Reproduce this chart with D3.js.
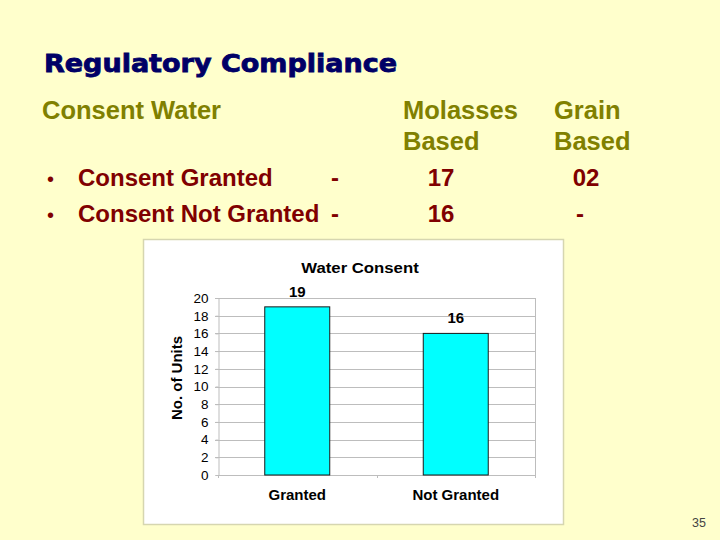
<!DOCTYPE html>
<html><head><meta charset="utf-8">
<script src="https://cdn.jsdelivr.net/npm/d3@7"></script>
<style>html,body{margin:0;padding:0;background:#FFFFCC;}svg{display:block;}</style>
</head><body>
<svg id="c" width="720" height="540"></svg>
<script>
const pageTitle = "Regulatory Compliance";
const sectionLabel = "Consent Water";
const colHeaders = [["Molasses","Based"],["Grain","Based"]];
const rowLabels = ["Consent Granted","Consent Not Granted"];
const molassesVals = ["17","16"];
const grainVals = ["02","-"];
const chartTitle = "Water Consent";
const categories = ["Granted","Not Granted"];
const values = [19,16];
const yTicks = [0,2,4,6,8,10,12,14,16,18,20];
const yTitle = "No. of Units";
const pageNum = "35";

const svg = d3.select("#c");
const F = "Liberation Sans, Arial, sans-serif";
svg.append("rect").attr("width",720).attr("height",540).attr("fill","#FFFFCC");

svg.append("text").attr("x",44).attr("y",72).text(pageTitle)
  .attr("font-family","DejaVu Sans, sans-serif").attr("font-weight","bold").attr("font-size",24)
  .attr("textLength",353).attr("lengthAdjust","spacingAndGlyphs")
  .attr("fill","#000066").attr("stroke","#000066").attr("stroke-width",0.8);

svg.append("text").attr("x",42).attr("y",119).text(sectionLabel)
  .attr("font-family",F).attr("font-weight","bold").attr("font-size",25.5).attr("fill","#808000");

const colX = [403,554];
colHeaders.forEach((h,i)=>{
  h.forEach((t,j)=>{
    svg.append("text").attr("x",colX[i]).attr("y",119+j*31).text(t)
      .attr("font-family",F).attr("font-weight","bold").attr("font-size",25.5).attr("fill","#808000");
  });
});

const rowY = [186,222];
const grainX = [586,580];
rowLabels.forEach((t,i)=>{
  const g = svg.append("g").attr("font-family",F).attr("font-weight","bold").attr("font-size",24).attr("fill","#800000");
  g.append("text").attr("x",47).attr("y",rowY[i]).text("•").attr("font-weight","normal").attr("font-size",20);
  g.append("text").attr("x",78).attr("y",rowY[i]).text(t);
  g.append("text").attr("x",331).attr("y",rowY[i]).text("-");
  g.append("text").attr("x",441).attr("y",rowY[i]).attr("text-anchor","middle").text(molassesVals[i]);
  g.append("text").attr("x",grainX[i]).attr("y",rowY[i]).attr("text-anchor","middle").text(grainVals[i]);
});

// chart box
svg.append("rect").attr("x",143.5).attr("y",239.5).attr("width",420).attr("height",285)
  .attr("fill","#FFFFFF").attr("stroke","#D6D6B0").attr("stroke-width",1.5);

const pL=218, pR=535, pT=298, pB=475;
const x = d3.scaleBand().domain(categories).range([pL,pR]).paddingInner(0.59).paddingOuter(0.295);
const y = d3.scaleLinear().domain([0,20]).range([pB,pT]);

svg.append("text").attr("transform","translate(360,273) scale(1.08,1)").attr("text-anchor","middle").text(chartTitle)
  .attr("font-family",F).attr("font-weight","bold").attr("font-size",15.5).attr("fill","#000");

// gridlines
svg.append("g").selectAll("line").data(yTicks.filter(d=>d>0)).join("line")
  .attr("x1",pL-3).attr("x2",pR).attr("y1",d=>Math.round(y(d))+0.5).attr("y2",d=>Math.round(y(d))+0.5)
  .attr("stroke","#BDBDBD").attr("stroke-width",1);
svg.append("line").attr("x1",pR+0.5).attr("x2",pR+0.5).attr("y1",pT).attr("y2",pB+3).attr("stroke","#BDBDBD");

// y axis
const yAxis = svg.append("g").attr("transform",`translate(${pL+0.5},0)`)
  .call(d3.axisLeft(y).tickValues(yTicks).tickSize(3).tickPadding(7));
yAxis.select(".domain").attr("stroke","#BDBDBD");
yAxis.selectAll(".tick line").attr("stroke","#BDBDBD");
yAxis.selectAll("text").attr("font-family",F).attr("font-size",13.5).attr("fill","#000");

// x axis baseline
svg.append("line").attr("x1",pL).attr("x2",pR).attr("y1",pB+0.5).attr("y2",pB+0.5).attr("stroke","#BDBDBD");
const sep = [pL, (pL+pR)/2, pR];
svg.append("g").selectAll("line").data(sep).join("line")
  .attr("x1",d=>Math.round(d)+0.5).attr("x2",d=>Math.round(d)+0.5).attr("y1",pB).attr("y2",pB+3).attr("stroke","#BDBDBD");

// bars
svg.append("g").selectAll("rect").data(values).join("rect")
  .attr("x",(d,i)=>x(categories[i])).attr("width",x.bandwidth())
  .attr("y",d=>y(d)).attr("height",d=>pB-y(d))
  .attr("fill","#00FFFF").attr("stroke","#1a1a1a").attr("stroke-width",1);

svg.append("g").selectAll("text").data(values).join("text")
  .attr("x",(d,i)=>x(categories[i])+x.bandwidth()/2).attr("y",d=>y(d)-10)
  .attr("text-anchor","middle").text(d=>d)
  .attr("font-family",F).attr("font-weight","bold").attr("font-size",15).attr("fill","#000");

svg.append("g").selectAll("text").data(categories).join("text")
  .attr("x",d=>x(d)+x.bandwidth()/2).attr("y",500).attr("text-anchor","middle").text(d=>d)
  .attr("font-family",F).attr("font-weight","bold").attr("font-size",15).attr("fill","#000");

svg.append("text").attr("transform","translate(182,378) rotate(-90)").attr("text-anchor","middle").text(yTitle)
  .attr("font-family",F).attr("font-weight","bold").attr("font-size",15).attr("fill","#000");

svg.append("text").attr("x",706).attr("y",527).attr("text-anchor","end").text(pageNum)
  .attr("font-family",F).attr("font-size",12.5).attr("fill","#444");
</script>
</body></html>
